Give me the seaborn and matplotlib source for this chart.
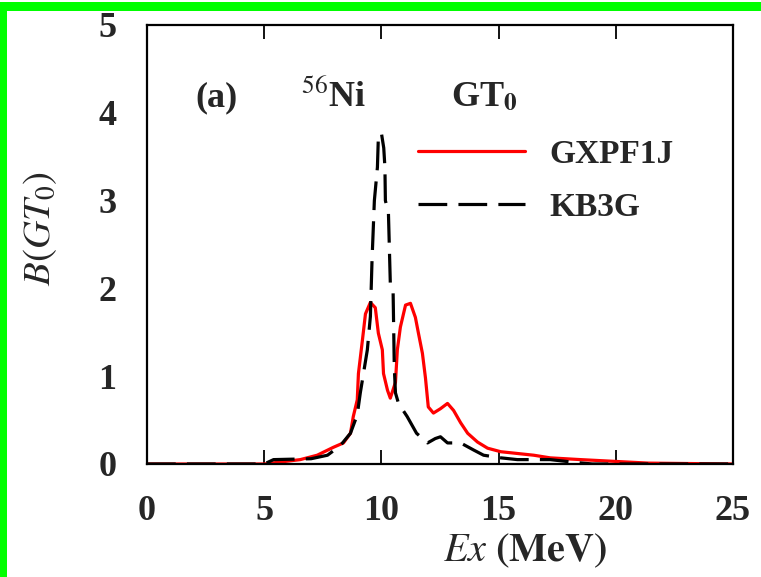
import numpy as np
import pandas as pd
import matplotlib
matplotlib.use("Agg")
import matplotlib.pyplot as plt
from matplotlib.patches import Rectangle
import seaborn as sns

# ---- data ----
gx_ex = [0.0, 5.0, 6.54, 7.26, 7.95, 8.38, 8.68, 8.80, 8.97, 9.02, 9.19, 9.32, 9.53, 9.74,
         9.87, 10.04, 10.09, 10.26, 10.38, 10.60, 10.68, 10.81, 11.03, 11.24, 11.45, 11.58,
         11.75, 11.88, 12.0, 12.22, 12.52, 12.82, 13.08, 13.38, 13.68, 14.1, 14.53, 15.09,
         16.5, 17.2, 18.5, 21.4, 25.0]
gx_b = [0.0, 0.0, 0.05, 0.10, 0.19, 0.24, 0.35, 0.54, 0.73, 1.03, 1.41, 1.71, 1.84, 1.78,
        1.49, 1.30, 1.03, 0.84, 0.75, 0.93, 1.30, 1.56, 1.81, 1.83, 1.67, 1.49,
        1.26, 0.98, 0.65, 0.58, 0.63, 0.69, 0.61, 0.47, 0.35, 0.25, 0.18, 0.14,
        0.10, 0.07, 0.05, 0.01, 0.0]

kb_ex = [0.0, 5.0, 5.4, 7.0, 7.7, 8.25, 8.68, 8.97, 9.1, 9.4, 9.53, 9.6, 9.7, 9.83, 9.87,
         10.0, 10.1, 10.15, 10.17, 10.3, 10.38, 10.5, 10.55, 10.6, 10.73, 11.1, 11.5,
         11.97, 12.3, 12.52, 12.82, 13.38, 13.93, 14.36, 15.1, 15.8, 17.2, 18.2, 19.0, 25.0]
kb_b = [0.0, 0.0, 0.05, 0.06, 0.10, 0.21, 0.35, 0.56, 0.81, 1.30, 1.68, 2.32, 3.0, 3.38, 3.72,
        3.77, 3.6, 3.38, 3.0, 2.86, 2.06, 1.95, 1.10, 0.81, 0.69, 0.54, 0.35,
        0.24, 0.29, 0.31, 0.24, 0.24, 0.16, 0.10, 0.07, 0.05, 0.05, 0.02, 0.0, 0.0]

models = ["GXPF1J", "KB3G"]
x_ticks = [0, 5, 10, 15, 20, 25]
y_ticks = [0, 1, 2, 3, 4, 5]

df = pd.concat([
    pd.DataFrame({"Ex": gx_ex, "B": gx_b, "model": models[0]}),
    pd.DataFrame({"Ex": kb_ex, "B": kb_b, "model": models[1]}),
], ignore_index=True)

sns.set_style("white")
plt.rcParams["font.family"] = ["Liberation Serif", "DejaVu Serif"]
plt.rcParams["mathtext.fontset"] = "stix"

W, H = 761, 577
fig = plt.figure(figsize=(W / 100, H / 100), dpi=100)
ax = fig.add_axes([147 / W, 1 - 464 / H, (733 - 147) / W, (464 - 25) / H])

sns.lineplot(data=df, x="Ex", y="B", hue="model", style="model",
             hue_order=models, style_order=models,
             palette={"GXPF1J": "#ff0000", "KB3G": "black"},
             dashes={"GXPF1J": "", "KB3G": (9, 3.5)},
             estimator=None, sort=False, linewidth=2.3, ax=ax)

ax.set_xlim(0, 25)
ax.set_ylim(0, 5)
ax.set_xticks(x_ticks)
ax.set_yticks(y_ticks)
ax.set_xticklabels([str(t) for t in x_ticks], fontsize=26, fontweight="bold")
ax.set_yticklabels([str(t) for t in y_ticks], fontsize=26, fontweight="bold")
ax.tick_params(axis="x", direction="in", length=10, width=1.3, top=True, bottom=True,
               pad=22, color="black")
ax.tick_params(axis="y", length=0, pad=22)
for sp in ax.spines.values():
    sp.set_visible(True)
    sp.set_linewidth(1.6)
    sp.set_color("black")

ax.set_xlabel(r"$\mathit{Ex}$ $\mathbf{(MeV)}$", fontsize=29)
ax.xaxis.set_label_coords((525 - 147) / 586, -(551 - 464) / 439)
ax.xaxis.label.set_va("center")
ax.set_ylabel(r"$B(GT_0)$", fontsize=28)
ax.yaxis.set_label_coords(-(147 - 40) / 586, (464 - 228) / 439)
ax.yaxis.label.set_va("center")

# annotations
ax.text(0.082, 0.815, "(a)", transform=ax.transAxes, fontsize=26, fontweight="bold")
ax.text(0.262, 0.815, r"$^{56}$Ni", transform=ax.transAxes, fontsize=26, fontweight="bold")
ax.text(0.518, 0.815, r"GT$_{\mathbf{0}}$", transform=ax.transAxes, fontsize=26,
        fontweight="bold")

leg = ax.legend(loc="upper left", bbox_to_anchor=(418 / W, 1 - 139 / H),
                bbox_transform=fig.transFigure, frameon=False, fontsize=24,
                handlelength=3.2, handletextpad=0.75, labelspacing=0.65,
                borderpad=0, borderaxespad=0)
for t in leg.get_texts():
    t.set_fontweight("bold")
for l in leg.get_lines():
    l.set_linewidth(2.3)

# green frame edges
fig.patches.append(Rectangle((0, 1 - 11 / H), 1, 9 / H, transform=fig.transFigure,
                             facecolor="#00ff00", edgecolor="none", zorder=10))
fig.patches.append(Rectangle((0, 0), 7 / W, 1 - 2 / H, transform=fig.transFigure,
                             facecolor="#00ff00", edgecolor="none", zorder=10))

fig.savefig("out.png", dpi=100)
